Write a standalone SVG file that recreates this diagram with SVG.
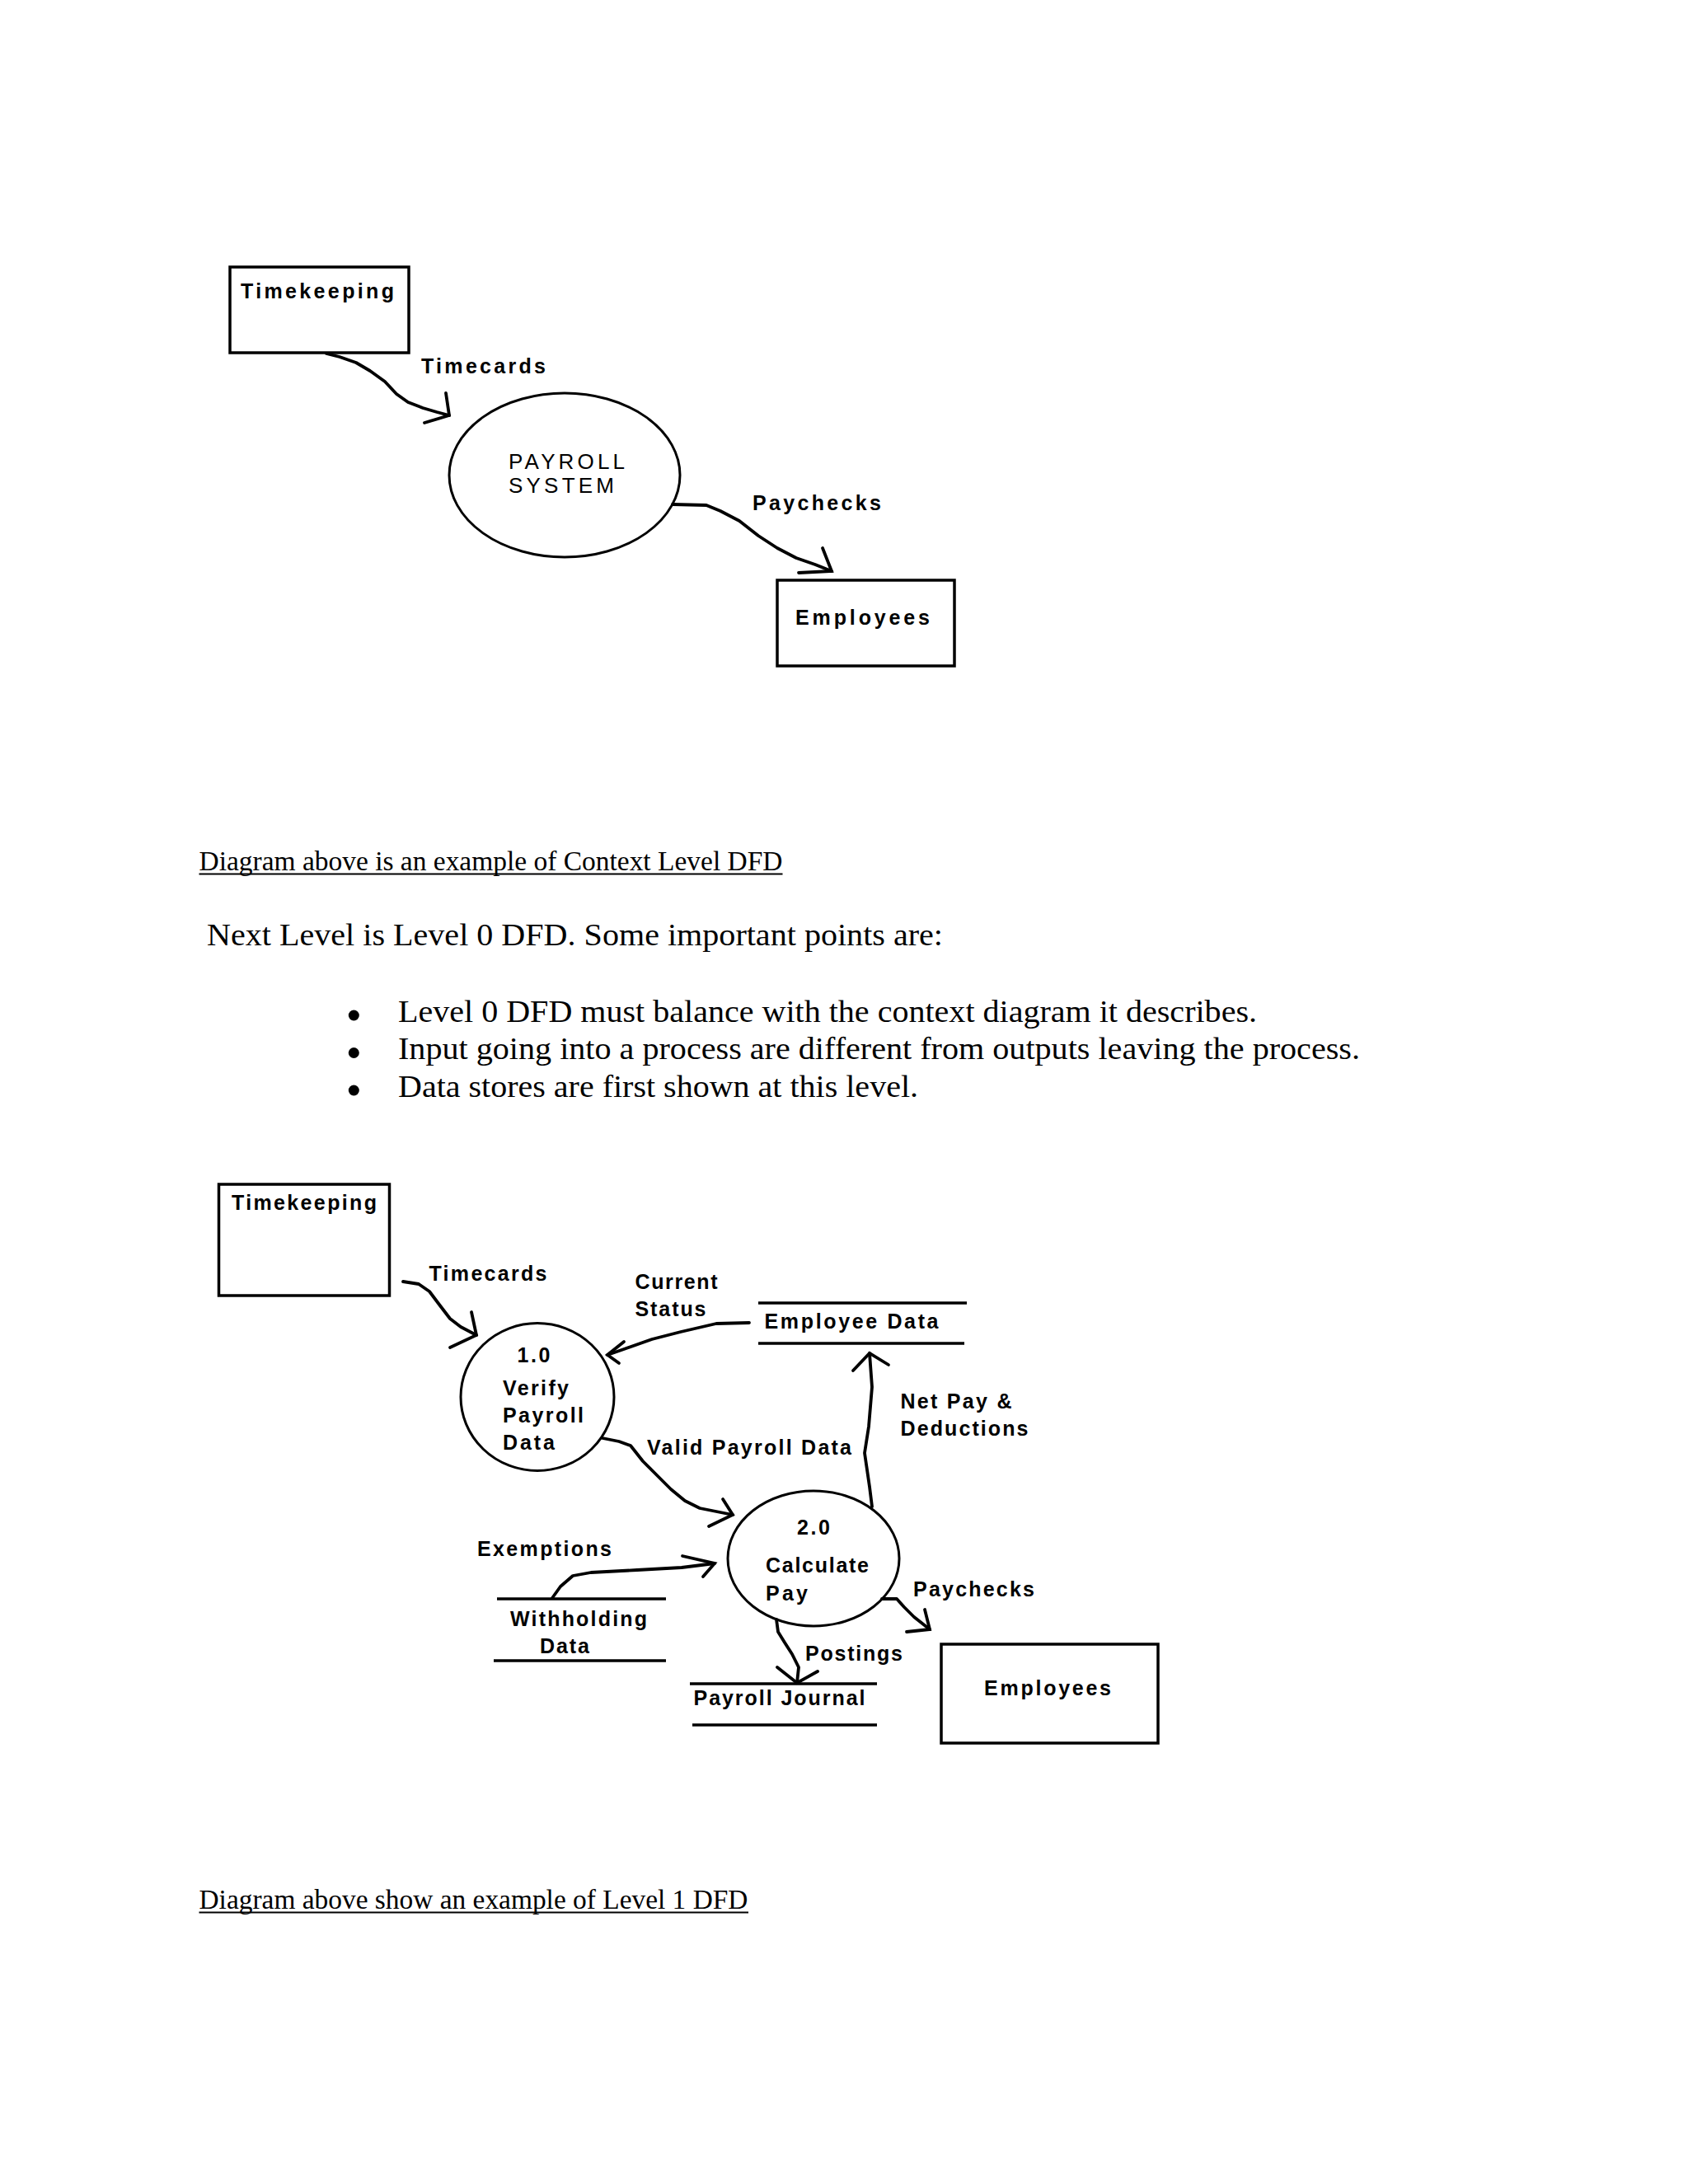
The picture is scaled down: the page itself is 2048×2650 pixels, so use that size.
<svg xmlns="http://www.w3.org/2000/svg" width="2048" height="2650" viewBox="0 0 2048 2650">
<style>
.bg{fill:#ffffff}
.box{fill:none;stroke:#000;stroke-width:3.5}
.proc{fill:none;stroke:#000;stroke-width:3}
.store{stroke:#000;stroke-width:3.5;fill:none}
.flow{fill:none;stroke:#000;stroke-width:3.8;stroke-linejoin:round;stroke-linecap:round}
.head{fill:none;stroke:#000;stroke-width:3.8;stroke-linejoin:miter;stroke-linecap:round}
.lbl{font-family:"Liberation Sans",Arial,sans-serif;font-weight:bold;font-size:25px;fill:#000}
.lblr{font-family:"Liberation Sans",Arial,sans-serif;font-weight:normal;font-size:26px;fill:#000}
.doc{font-family:"Liberation Serif","Times New Roman",serif;fill:#000}
.ul{stroke:#000;stroke-width:2}
</style>
<rect class="bg" x="0" y="0" width="2048" height="2650"/>

<!-- Context level diagram -->
<g id="ctx-timekeeping">
<rect class="box" x="279" y="324" width="217" height="104"/>
<text class="lbl" x="292" y="362" font-size="26" textLength="186" lengthAdjust="spacing">Timekeeping</text>
</g>
<g id="ctx-payroll-system">
<ellipse class="proc" cx="685" cy="576.5" rx="140" ry="99.5"/>
<text class="lblr" x="617" y="569" textLength="141" lengthAdjust="spacing">PAYROLL</text>
<text class="lblr" x="617" y="598" textLength="128" lengthAdjust="spacing">SYSTEM</text>
</g>
<g id="ctx-employees">
<rect class="box" x="943" y="704" width="215" height="104"/>
<text class="lbl" x="965" y="758" font-size="26" textLength="163" lengthAdjust="spacing">Employees</text>
</g>
<g id="ctx-connectors">
<polyline class="flow" points="396,429 412,433 432,440 449,450 467,463 481,478 495,488 513,495 530,500 545,504"/>
<polyline class="head" points="541,477 545,504 515,513"/>
<text class="lbl" x="511" y="453" font-size="26" textLength="151" lengthAdjust="spacing">Timecards</text>
<polyline class="flow" points="816,612 857,613 874,620 897,632 920,650 943,665 966,677 989,685 1009,693"/>
<polyline class="head" points="998,665 1009,693 969,695"/>
<text class="lbl" x="913" y="619" font-size="26" textLength="156" lengthAdjust="spacing">Paychecks</text>
</g>

<!-- Document text -->
<g id="caption-context">
<text class="doc" x="241.5" y="1056" font-size="33" textLength="708" lengthAdjust="spacingAndGlyphs">Diagram above is an example of Context Level DFD</text>
<line class="ul" x1="241.5" y1="1060.5" x2="949.5" y2="1060.5"/>
</g>
<g id="intro-text">
<text class="doc" x="251" y="1147" font-size="38" textLength="893" lengthAdjust="spacingAndGlyphs">Next Level is Level 0 DFD. Some important points are:</text>
</g>
<g id="bullets">
<circle cx="429.3" cy="1232" r="6.5" fill="#000"/>
<circle cx="429.3" cy="1277.5" r="6.5" fill="#000"/>
<circle cx="429.3" cy="1323" r="6.5" fill="#000"/>
<text class="doc" x="483" y="1240" font-size="38" textLength="1042" lengthAdjust="spacingAndGlyphs">Level 0 DFD must balance with the context diagram it describes.</text>
<text class="doc" x="483" y="1285" font-size="38" textLength="1167" lengthAdjust="spacingAndGlyphs">Input going into a process are different from outputs leaving the process.</text>
<text class="doc" x="483" y="1330.5" font-size="38" textLength="631" lengthAdjust="spacingAndGlyphs">Data stores are first shown at this level.</text>
</g>

<!-- Level 1 diagram -->
<g id="l1-timekeeping">
<rect class="box" x="265.5" y="1437" width="207" height="135"/>
<text class="lbl" x="281" y="1468" font-size="26" textLength="176" lengthAdjust="spacing">Timekeeping</text>
</g>
<g id="l1-verify">
<ellipse class="proc" cx="652" cy="1695" rx="93" ry="89.5"/>
<text class="lbl" x="627.5" y="1653" textLength="40" lengthAdjust="spacing">1.0</text>
<text class="lbl" x="610" y="1693" textLength="80" lengthAdjust="spacing">Verify</text>
<text class="lbl" x="610" y="1726" textLength="98" lengthAdjust="spacing">Payroll</text>
<text class="lbl" x="610" y="1759" textLength="63" lengthAdjust="spacing">Data</text>
</g>
<g id="l1-employee-data">
<line class="store" x1="920" y1="1581" x2="1173" y2="1581"/>
<line class="store" x1="920" y1="1630" x2="1170" y2="1630"/>
<text class="lbl" x="927.5" y="1612" textLength="211" lengthAdjust="spacing">Employee Data</text>
</g>
<g id="l1-calculate">
<ellipse class="proc" cx="987" cy="1891" rx="104" ry="82"/>
<text class="lbl" x="967" y="1862" textLength="40" lengthAdjust="spacing">2.0</text>
<text class="lbl" x="929" y="1908" textLength="125" lengthAdjust="spacing">Calculate</text>
<text class="lbl" x="929" y="1942" textLength="51" lengthAdjust="spacing">Pay</text>
</g>
<g id="l1-withholding">
<line class="store" x1="603" y1="1940" x2="808" y2="1940"/>
<line class="store" x1="599" y1="2015" x2="808" y2="2015"/>
<text class="lbl" x="619" y="1973" textLength="166" lengthAdjust="spacing">Withholding</text>
<text class="lbl" x="655" y="2006" textLength="60" lengthAdjust="spacing">Data</text>
</g>
<g id="l1-payroll-journal">
<line class="store" x1="837" y1="2043" x2="1064" y2="2043"/>
<line class="store" x1="840" y1="2093" x2="1064" y2="2093"/>
<text class="lbl" x="841.5" y="2069" textLength="208" lengthAdjust="spacing">Payroll Journal</text>
</g>
<g id="l1-employees">
<rect class="box" x="1142" y="1995" width="263" height="120"/>
<text class="lbl" x="1194" y="2057" font-size="26" textLength="154" lengthAdjust="spacing">Employees</text>
</g>

<g id="l1-connectors">
<!-- Timecards -->
<polyline class="flow" points="489,1555 508,1558 521,1567 533,1583 546,1600 559,1610 578,1620"/>
<polyline class="head" points="572,1592 578,1620 546,1635"/>
<text class="lbl" x="520.5" y="1554" textLength="143" lengthAdjust="spacing">Timecards</text>
<!-- Current Status -->
<polyline class="flow" points="909,1605 869,1606 826,1616 791,1625 757,1637 737,1644"/>
<polyline class="head" points="757,1628 737,1644 751,1654"/>
<text class="lbl" x="770.5" y="1564" textLength="100" lengthAdjust="spacing">Current</text>
<text class="lbl" x="770.5" y="1597" textLength="86" lengthAdjust="spacing">Status</text>
<!-- Valid Payroll Data -->
<polyline class="flow" points="731,1745 751,1749 765,1754 780,1773 797,1790 814,1807 831,1821 849,1830 889,1838"/>
<polyline class="head" points="877,1819 889,1838 860,1852"/>
<text class="lbl" x="785" y="1765" textLength="248" lengthAdjust="spacing">Valid Payroll Data</text>
<!-- Net Pay & Deductions -->
<polyline class="flow" points="1058,1828 1055,1804 1049,1763 1054,1731 1058,1683 1055,1642"/>
<polyline class="head" points="1035,1663 1055,1642 1078,1656"/>
<text class="lbl" x="1092.5" y="1709" textLength="135" lengthAdjust="spacing">Net Pay &amp;</text>
<text class="lbl" x="1092.5" y="1742" textLength="155" lengthAdjust="spacing">Deductions</text>
<!-- Exemptions -->
<polyline class="flow" points="670,1939 680,1925 695,1912 717,1908 773,1905 827,1902 867,1897"/>
<polyline class="head" points="828,1888 867,1897 853,1913"/>
<text class="lbl" x="579" y="1888" textLength="163" lengthAdjust="spacing">Exemptions</text>
<!-- Paychecks -->
<polyline class="flow" points="1070,1940 1088,1940 1097,1950 1109,1962 1128,1977"/>
<polyline class="head" points="1122,1953 1128,1977 1100,1980"/>
<text class="lbl" x="1108" y="1937" textLength="147" lengthAdjust="spacing">Paychecks</text>
<!-- Postings -->
<polyline class="flow" points="942,1965 944,1980 952,1993 961,2007 969,2023 967,2042"/>
<polyline class="head" points="943,2023 967,2042 992,2028"/>
<text class="lbl" x="977" y="2015" textLength="118" lengthAdjust="spacing">Postings</text>
</g>

<g id="caption-level1">
<text class="doc" x="241.5" y="2316" font-size="33" textLength="666" lengthAdjust="spacingAndGlyphs">Diagram above show an example of Level 1 DFD</text>
<line class="ul" x1="241.5" y1="2320.5" x2="908" y2="2320.5"/>
</g>
</svg>
